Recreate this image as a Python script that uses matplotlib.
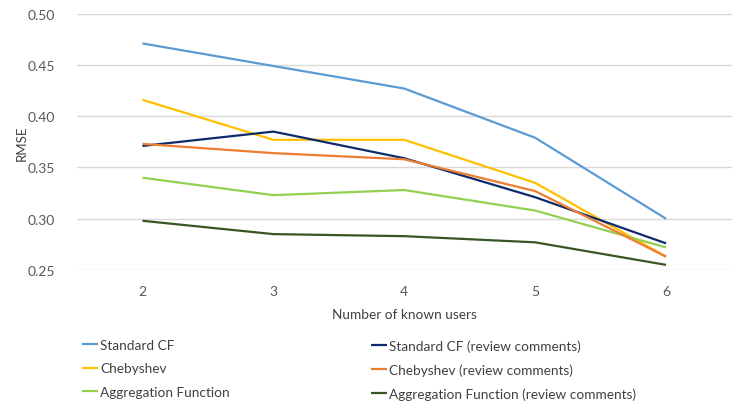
import numpy as np
import matplotlib.pyplot as plt

plt.rcParams['font.family'] = ['Lato', 'DejaVu Sans']

# data
users = ['2', '3', '4', '5', '6']
standard_cf = [0.471, 0.449, 0.427, 0.379, 0.300]
standard_cf_rc = [0.371, 0.385, 0.359, 0.321, 0.276]
chebyshev = [0.416, 0.377, 0.377, 0.335, 0.263]
chebyshev_rc = [0.373, 0.364, 0.358, 0.327, 0.263]
aggregation = [0.340, 0.323, 0.328, 0.308, 0.272]
aggregation_rc = [0.298, 0.285, 0.283, 0.277, 0.255]

W, H = 738, 402
fig = plt.figure(figsize=(W / 100, H / 100), dpi=100)
ax = fig.add_axes([77 / W, 1 - 271 / H, (731.5 - 77) / W, (271 - 14.7) / H])

x = np.arange(len(users))
series = [
    ('Standard CF', standard_cf, '#5B9BD5'),
    ('Chebyshev', chebyshev, '#FFC000'),
    ('Aggregation Function', aggregation, '#92D050'),
    ('Standard CF (review comments)', standard_cf_rc, '#0D2B6B'),
    ('Chebyshev (review comments)', chebyshev_rc, '#ED7D31'),
    ('Aggregation Function (review comments)', aggregation_rc, '#375623'),
]
lines = []
for name, vals, col in series:
    ln, = ax.plot(x, vals, color=col, lw=1.6, label=name, solid_capstyle='butt')
    lines.append(ln)

ax.set_xlim(-0.5, len(users) - 0.5)
ax.set_ylim(0.25, 0.50)
ax.set_yticks(np.arange(0.25, 0.501, 0.05))
ax.set_yticklabels([f'{v:.2f}' for v in np.arange(0.25, 0.501, 0.05)])
ax.set_xticks(x)
ax.set_xticklabels(users)
ax.grid(axis='y', color='#D9D9D9', lw=1.0)
ax.set_axisbelow(True)
for s in ax.spines.values():
    s.set_visible(False)
ax.tick_params(length=0, labelsize=10, colors='#595959')
ax.tick_params(axis='x', pad=11)
ax.tick_params(axis='y', pad=16)
ax.set_xlabel('Number of known users', fontsize=9.8, color='#404040', labelpad=8)
ax.set_ylabel('RMSE', fontsize=9.5, color='#404040')
ax.yaxis.set_label_coords(-0.075, 0.5)

leg_kw = dict(frameon=False, fontsize=9.8, handlelength=1.2, handletextpad=0.15,
              labelspacing=0.84, borderpad=0, borderaxespad=0, loc='upper left',
              labelcolor='#404040')
fig.legend(handles=lines[:3], bbox_to_anchor=(82 / W, 1 - 340 / H), **leg_kw)
fig.legend(handles=lines[3:], bbox_to_anchor=(371 / W, 1 - 340 / H), **leg_kw)

fig.savefig('out.png', dpi=100)
